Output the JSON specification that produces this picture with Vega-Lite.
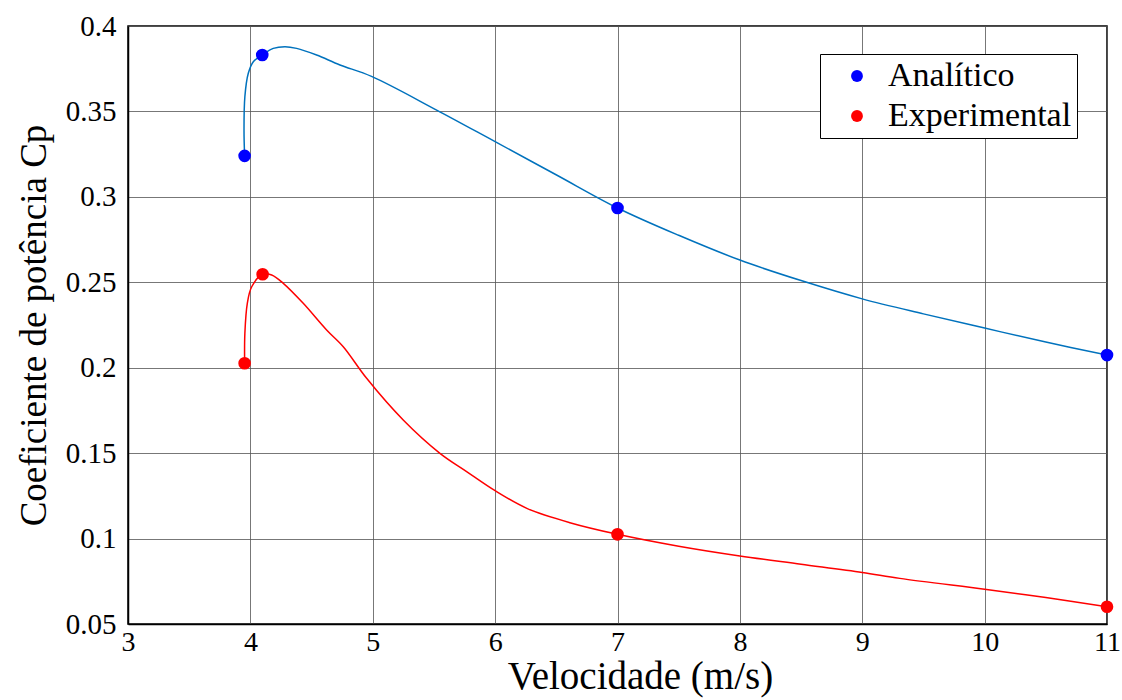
{
  "$schema": "https://vega.github.io/schema/vega-lite/v6.json",
  "autosize": "none",
  "width": 979,
  "height": 598,
  "padding": {"left": 128, "top": 26, "right": 15, "bottom": 76},
  "background": "white",
  "config": {
    "view": {"stroke": "black", "strokeWidth": 1.5},
    "font": "Liberation Serif"
  },
  "datasets": {
    "curves": [
      {"serie": "Analítico", "i": 0, "v": 3.953, "cp": 0.324},
      {"serie": "Analítico", "i": 1, "v": 3.948, "cp": 0.339},
      {"serie": "Analítico", "i": 2, "v": 3.955, "cp": 0.3586},
      {"serie": "Analítico", "i": 3, "v": 3.983, "cp": 0.3723},
      {"serie": "Analítico", "i": 4, "v": 4.024, "cp": 0.3791},
      {"serie": "Analítico", "i": 5, "v": 4.097, "cp": 0.383},
      {"serie": "Analítico", "i": 6, "v": 4.187, "cp": 0.3869},
      {"serie": "Analítico", "i": 7, "v": 4.283, "cp": 0.3879},
      {"serie": "Analítico", "i": 8, "v": 4.378, "cp": 0.3869},
      {"serie": "Analítico", "i": 9, "v": 4.541, "cp": 0.383},
      {"serie": "Analítico", "i": 10, "v": 4.732, "cp": 0.3772},
      {"serie": "Analítico", "i": 11, "v": 4.99, "cp": 0.3705},
      {"serie": "Analítico", "i": 12, "v": 5.522, "cp": 0.3508},
      {"serie": "Analítico", "i": 13, "v": 6.0, "cp": 0.3323},
      {"serie": "Analítico", "i": 14, "v": 6.502, "cp": 0.3128},
      {"serie": "Analítico", "i": 15, "v": 7.0, "cp": 0.2935},
      {"serie": "Analítico", "i": 16, "v": 7.5, "cp": 0.2775},
      {"serie": "Analítico", "i": 17, "v": 8.0, "cp": 0.263},
      {"serie": "Analítico", "i": 18, "v": 8.5, "cp": 0.251},
      {"serie": "Analítico", "i": 19, "v": 9.0, "cp": 0.2403},
      {"serie": "Analítico", "i": 20, "v": 9.5, "cp": 0.2315},
      {"serie": "Analítico", "i": 21, "v": 10.0, "cp": 0.2232},
      {"serie": "Analítico", "i": 22, "v": 10.5, "cp": 0.215},
      {"serie": "Analítico", "i": 23, "v": 11.0, "cp": 0.2074},
      {"serie": "Experimental", "i": 0, "v": 3.953, "cp": 0.2026},
      {"serie": "Experimental", "i": 1, "v": 3.955, "cp": 0.2201},
      {"serie": "Experimental", "i": 2, "v": 3.975, "cp": 0.2377},
      {"serie": "Experimental", "i": 3, "v": 4.011, "cp": 0.2474},
      {"serie": "Experimental", "i": 4, "v": 4.1, "cp": 0.2547},
      {"serie": "Experimental", "i": 5, "v": 4.174, "cp": 0.2543},
      {"serie": "Experimental", "i": 6, "v": 4.269, "cp": 0.2494},
      {"serie": "Experimental", "i": 7, "v": 4.432, "cp": 0.2377},
      {"serie": "Experimental", "i": 8, "v": 4.623, "cp": 0.2221},
      {"serie": "Experimental", "i": 9, "v": 4.759, "cp": 0.2123},
      {"serie": "Experimental", "i": 10, "v": 4.95, "cp": 0.1938},
      {"serie": "Experimental", "i": 11, "v": 5.249, "cp": 0.1694},
      {"serie": "Experimental", "i": 12, "v": 5.549, "cp": 0.1499},
      {"serie": "Experimental", "i": 13, "v": 5.767, "cp": 0.1392},
      {"serie": "Experimental", "i": 14, "v": 6.0, "cp": 0.128},
      {"serie": "Experimental", "i": 15, "v": 6.259, "cp": 0.1177},
      {"serie": "Experimental", "i": 16, "v": 6.611, "cp": 0.1093},
      {"serie": "Experimental", "i": 17, "v": 7.0, "cp": 0.1025},
      {"serie": "Experimental", "i": 18, "v": 7.5, "cp": 0.0955},
      {"serie": "Experimental", "i": 19, "v": 8.0, "cp": 0.0898},
      {"serie": "Experimental", "i": 20, "v": 8.5, "cp": 0.085},
      {"serie": "Experimental", "i": 21, "v": 9.0, "cp": 0.0802},
      {"serie": "Experimental", "i": 22, "v": 9.307, "cp": 0.0767},
      {"serie": "Experimental", "i": 23, "v": 10.0, "cp": 0.0703},
      {"serie": "Experimental", "i": 24, "v": 10.5, "cp": 0.0655},
      {"serie": "Experimental", "i": 25, "v": 11.0, "cp": 0.0601}
    ],
    "points": [
      {"serie": "Analítico", "v": 3.953, "cp": 0.324},
      {"serie": "Analítico", "v": 4.097, "cp": 0.383},
      {"serie": "Analítico", "v": 7.0, "cp": 0.2935},
      {"serie": "Analítico", "v": 11.0, "cp": 0.2074},
      {"serie": "Experimental", "v": 3.953, "cp": 0.2026},
      {"serie": "Experimental", "v": 4.1, "cp": 0.2547},
      {"serie": "Experimental", "v": 7.0, "cp": 0.1025},
      {"serie": "Experimental", "v": 11.0, "cp": 0.0601}
    ]
  },
  "encoding": {
    "x": {
      "field": "v", "type": "quantitative",
      "scale": {"domain": [3, 11], "nice": false, "zero": false},
      "axis": {
        "title": "Velocidade (m/s)",
        "values": [3, 4, 5, 6, 7, 8, 9, 10, 11],
        "grid": true, "gridColor": "#555555", "gridWidth": 1, "gridOpacity": 0.8,
        "domainColor": "black", "domainWidth": 1.5,
        "ticks": false,
        "labelFont": "Times New Roman", "labelFontSize": 28, "labelColor": "black",
        "labelPadding": 4, "labelFlush": false,
        "titleFont": "Times New Roman", "titleFontSize": 39, "titleFontWeight": "normal",
        "titleColor": "black", "titlePadding": 1, "titleX": 512
      }
    },
    "y": {
      "field": "cp", "type": "quantitative",
      "scale": {"domain": [0.05, 0.4], "nice": false, "zero": false},
      "axis": {
        "title": "Coeficiente de potência Cp",
        "values": [0.05, 0.1, 0.15, 0.2, 0.25, 0.3, 0.35, 0.4],
        "format": ".2~f",
        "grid": true, "gridColor": "#555555", "gridWidth": 1, "gridOpacity": 0.8,
        "domainColor": "black", "domainWidth": 1.5,
        "ticks": false,
        "labelFont": "Times New Roman", "labelFontSize": 29, "labelColor": "black",
        "labelPadding": 12, "labelFlush": false,
        "titleFont": "Times New Roman", "titleFontSize": 37, "titleFontWeight": "normal",
        "titleColor": "black", "titlePadding": 12
      }
    }
  },
  "layer": [
    {
      "data": {"name": "curves"},
      "transform": [{"filter": "datum.serie === 'Analítico'"}],
      "mark": {"type": "line", "strokeWidth": 1.5, "color": "#0072BD", "interpolate": "catmull-rom", "clip": true},
      "encoding": {
        "order": {"field": "i", "type": "quantitative"}
      }
    },
    {
      "data": {"name": "curves"},
      "transform": [{"filter": "datum.serie === 'Experimental'"}],
      "mark": {"type": "line", "strokeWidth": 1.5, "color": "#FF0000", "interpolate": "catmull-rom", "clip": true},
      "encoding": {
        "order": {"field": "i", "type": "quantitative"}
      }
    },
    {
      "data": {"name": "points"},
      "mark": {"type": "point", "shape": "circle", "filled": true, "opacity": 1, "size": 160},
      "encoding": {
        "color": {
          "field": "serie", "type": "nominal",
          "scale": {"domain": ["Analítico", "Experimental"], "range": ["#0000FF", "#FF0000"]},
          "legend": {
            "title": null,
            "orient": "none",
            "legendX": 692,
            "legendY": 28,
            "direction": "vertical",
            "fillColor": "white",
            "strokeColor": "black",
            "padding": 5,
            "symbolSize": 140,
            "symbolType": "circle",
            "symbolOffset": 15,
            "labelFont": "Times New Roman",
            "labelFontSize": 34,
            "labelColor": "black",
            "labelOffset": 14,
            "rowPadding": 6,
            "labelLimit": 400
          }
        }
      }
    }
  ]
}
